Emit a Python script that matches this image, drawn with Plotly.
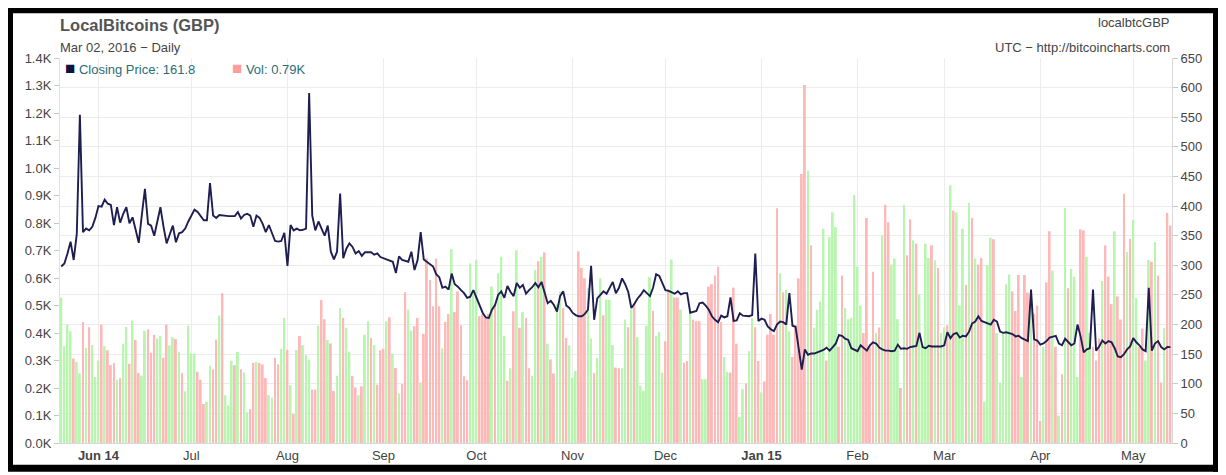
import pandas as pd
import plotly.graph_objects as go

# daily series, first day 2014-05-20
start_date = "2014-05-20"

closing_price = [
    298, 303, 320, 340, 309, 353, 554, 356, 362, 359,
    365, 380, 400, 399, 411, 404, 402, 368, 398, 372,
    387, 398, 371, 381, 360, 338, 385, 429, 370, 367,
    350, 375, 398, 365, 337, 352, 367, 339, 354, 356,
    362, 374, 385, 394, 390, 382, 376, 376, 439, 384,
    380, 385, 384, 383, 383, 383, 383, 390, 379, 385,
    387, 384, 365, 384, 380, 370, 356, 368, 355, 341,
    340, 341, 355, 299, 368, 359, 362, 359, 360, 362,
    591, 384, 359, 374, 362, 350, 367, 323, 310, 323,
    421, 312, 328, 337, 331, 320, 324, 316, 322, 322,
    322, 318, 320, 314, 312, 310, 308, 306, 287, 315,
    309, 307, 306, 323, 292, 309, 356, 310, 306, 302,
    298, 285, 280,
    262, 264, 259, 286, 268, 264, 258, 253, 245, 247,
    258, 245, 234, 220, 212, 211, 225, 233, 250, 256,
    245, 265, 255, 248, 270, 262, 267, 252, 258, 263,
    270, 263, 272, 255, 236, 240, 233, 222, 248, 256,
    232, 228, 220, 216, 214, 214, 218, 225, 299, 208,
    244, 250, 256, 252, 262, 272,
    253, 262, 278, 268, 255, 228, 235, 244, 250, 258,
    253, 248, 262, 285, 282, 270, 258, 257, 255, 252,
    256, 251, 253, 253, 220, 222, 223, 236, 237, 232,
    225, 214, 208, 204, 215, 212, 214, 246, 206, 207,
    219, 215, 214, 214, 216, 320, 206, 210, 208, 197,
    192, 189, 200, 205, 204, 200, 253, 198, 196, 155,
    124, 158, 149, 151, 151, 153, 155, 157, 161, 156,
    162, 168, 182, 181, 176, 174, 160, 157, 155, 165,
    160, 156, 165, 170, 168, 161, 158, 156, 156, 155,
    156, 166, 159, 160, 159, 162, 163, 164, 186, 162,
    160, 164, 163, 163, 162, 163, 165, 187, 177, 184,
    186, 178, 181, 180, 188, 202, 205, 214, 206, 204,
    203, 200, 208, 205, 188, 186, 187, 185, 184, 180,
    181, 177, 175, 172, 259, 175, 173, 166, 168, 172,
    178, 180, 181, 168, 165, 176, 170, 165, 168, 200,
    180, 153, 158, 160, 259, 156, 163, 173, 168, 172,
    170, 160, 146, 145, 150, 158, 163, 177, 170, 165,
    158, 155, 262, 156, 168, 172, 162, 158, 162, 161.8,
]

volume = [
    529, 352, 430, 406, 307, 295, 253, 440, 346, 421,
    356, 240, 300, 430, 352, 337, 283, 291, 230, 236,
    361, 422, 288, 445, 375, 254, 245, 408, 414, 328,
    393, 380, 389, 310, 430, 355, 385, 378, 332, 254,
    188, 427, 326, 325, 259, 230, 142, 150, 281, 268,
    376, 464, 545, 174, 137, 299, 283, 331, 268, 257,
    112, 123, 291, 295, 291, 286, 236, 174, 165, 310,
    286, 343, 455, 339, 210, 106, 338, 389, 356, 320,
    303, 194, 194, 427, 520, 450, 375, 362, 189, 245,
    491,
    455, 419, 332, 244, 202, 174, 206, 394, 443, 382,
    356, 212, 337, 343, 443, 457, 325, 273, 180, 214,
    548, 485, 409, 425, 455, 220, 397, 671, 593, 497,
    671, 497, 344, 440, 469, 705, 476, 551, 428, 243,
    228, 653, 539, 665, 461, 469, 455, 469, 569, 505,
    617, 677, 389, 226, 272, 479, 701, 419, 476, 455,
    272, 244, 629, 661, 677, 693, 361, 304, 253, 505,
    551, 491, 382, 355, 238, 262, 697, 637, 599, 563,
    380, 254, 310, 599, 464, 521, 521, 356, 274, 272,
    272, 449, 421, 487, 509, 385, 208, 190, 427, 603,
    481, 389, 404, 256, 370, 551, 667, 529, 529, 485,
    292, 298, 485, 449, 443, 443, 232, 232, 569, 577,
    609, 641, 440, 313, 259, 256, 565, 361, 94, 196,
    216, 334, 455, 421, 298, 184, 224, 394, 469, 394,
    854, 617, 548, 557, 406, 313, 430, 599,
    978, 1302, 990, 719, 419, 485, 515, 779, 300, 749,
    839, 785, 350, 609, 491, 450, 455, 902, 641, 500,
    400, 818, 350, 623, 400, 420, 755, 866, 803, 649,
    671, 450, 200, 866, 683, 813, 737, 725, 541, 350,
    725, 673, 719, 665, 637, 400, 420, 428, 936, 845,
    839, 500, 779, 575, 873, 818, 671, 649, 673, 150,
    647, 747, 741, 400, 220, 400, 577, 613, 551, 480,
    611, 240, 611, 547, 509, 470, 500, 80, 350, 584,
    770, 627, 350, 100, 250, 854, 563, 633, 605, 240,
    777, 773, 677, 400, 350, 300, 380, 589, 719, 605,
    505, 770, 533, 449, 906, 695, 743, 812, 527, 350,
    416, 300, 665, 659, 731, 609, 220, 418, 837, 791,
]

# G = up day, R = down day (bar colour)
vol_dir = (
    "GGGGRGGRGRGGGRGRRRGRGGRGRRGGRRRGGRRGGRGRGGGGRRRGGR"
    "RGRGGGRGRGGRRGRRRGGRRGGRGRGRGGGRRGRRGRRGG"
    "RGGRRGRGGRGRRRGRGRGRRGGRRGRRRRRRGRRGRRRRRGGGRRRRGR"
    "GGGRGRGRGRRGGRGRGRRGGRRGGGRRRGGRGGRGGGRR"
    "GGRGRGGGGGRGGGRRGRRGRRGRRRGGRRRRRGGRRRGGRGGRRGRRRR"
    "RGRGGRRR"
    "RRGRGGGGRGGGRRGGGGGGRRRRGRGRRGGGRGRRGRGGGGRGRGGRGR"
    "GGGRGRGRRGGGRGGGGGRRRGRRGRRRGRRGRGRGRGGGRRGGRRRGRR"
    "RGRRRGRGGRRGGRGRRGRR"
)

month_ticks = ["2014-06-01", "2014-07-01", "2014-08-01", "2014-09-01",
               "2014-10-01", "2014-11-01", "2014-12-01", "2015-01-01",
               "2015-02-01", "2015-03-01", "2015-04-01", "2015-05-01"]
month_labels = ["<b>Jun 14</b>", "Jul", "Aug", "Sep", "Oct", "Nov", "Dec",
                "<b>Jan 15</b>", "Feb", "Mar", "Apr", "May"]

vol_ticks = list(range(0, 1401, 100))
vol_labels = [f"{v / 1000:.1f}K" for v in vol_ticks]

dates = pd.date_range(start_date, periods=len(closing_price), freq="D")
bar_colors = ["#b8f6b0" if d == "G" else "#ffb8b8" for d in vol_dir]

# the page puts the figure 8px in from the window corner, so positions
# below are given in window pixels and shifted back by OFF
OFF = 8
W, H = 1218, 467
PL, PR, PT, PB = 60, 1172, 58, 446  # plot area in window pixels


def px(x, y):
    return (x - PL) / (PR - PL), (PB - y) / (PB - PT)


fig = go.Figure()
fig.add_trace(go.Bar(
    x=dates, y=volume,
    marker=dict(color=bar_colors, line_width=0),
    width=0.62 * 86400000,
    yaxis="y",
))
fig.add_trace(go.Scatter(
    x=dates, y=closing_price,
    mode="lines",
    line=dict(color="#1e1e50", width=1.9),
    yaxis="y2",
))

font = "Liberation Sans, Arial, sans-serif"
annotations = []


def note(text, x, y, anchor="left", size=13, color="#444"):
    ax, ay = px(x, y)
    annotations.append(dict(
        text=text, x=ax, y=ay, xref="paper", yref="paper",
        xanchor=anchor, yanchor="middle", showarrow=False,
        font=dict(family=font, size=size, color=color),
    ))


note("<b>LocalBitcoins (GBP)</b>", 58, 25, size=16.5, color="#555")
note("Mar 02, 2016 \u2212 Daily", 58, 47, size=13)
note("localbtcGBP", 1172, 22, anchor="right", size=13)
note("UTC \u2212 http://bitcoincharts.com", 1172, 47, anchor="right", size=13)
note(f'<span style="color:#12123e;font-size:17px">\u25a0</span> Closing Price: {closing_price[-1]}',
     63, 69, size=13, color="#2a6d78")
note(f'<span style="color:#ff9c9c;font-size:17px">\u25a0</span> Vol: {volume[-1] / 1000:.2f}K',
     230, 69, size=13, color="#2a6d78")

shapes = []
for x0, y0, x1, y1 in [(5, 5, 13, 469), (5, 5, 1224, 13),
                       (1213, 5, 1226, 475), (5, 468, 1226, 475)]:
    a0, b0 = px(x0, y1)
    a1, b1 = px(x1, y0)
    shapes.append(dict(type="rect", xref="paper", yref="paper",
                       x0=a0, y0=b0, x1=a1, y1=b1,
                       fillcolor="black", line_width=0))

tick_font = dict(family=font, size=13, color="#444")

fig.update_layout(
    width=W, height=H,
    margin=dict(l=PL - OFF, r=W - (PR - OFF), t=PT - OFF, b=H - (PB - OFF)),
    paper_bgcolor="white", plot_bgcolor="white",
    showlegend=False,
    hovermode=False,
    font=dict(family=font, size=13, color="#444"),
    annotations=annotations,
    shapes=shapes,
    xaxis=dict(
        type="date",
        range=["2014-05-19 14:00", "2015-05-13 12:00"],
        tickvals=month_ticks, ticktext=month_labels,
        showgrid=True, gridcolor="#ececec",
        ticks="", showline=True, linecolor="#d8d8d8",
        tickfont=tick_font,
    ),
    yaxis=dict(
        range=[0, 1400],
        tickvals=vol_ticks, ticktext=vol_labels,
        showgrid=False, zeroline=False,
        ticks="outside", ticklen=5, tickcolor="#c8c8c8",
        showline=True, linecolor="#e0e0e0",
        tickfont=tick_font,
    ),
    yaxis2=dict(
        overlaying="y", side="right",
        range=[0, 650], dtick=50,
        showgrid=True, gridcolor="#ececec", zeroline=False,
        ticks="outside", ticklen=5, tickcolor="#c8c8c8",
        showline=True, linecolor="#d8d8d8",
        tickfont=tick_font,
    ),
)

fig.write_html("out.html")
